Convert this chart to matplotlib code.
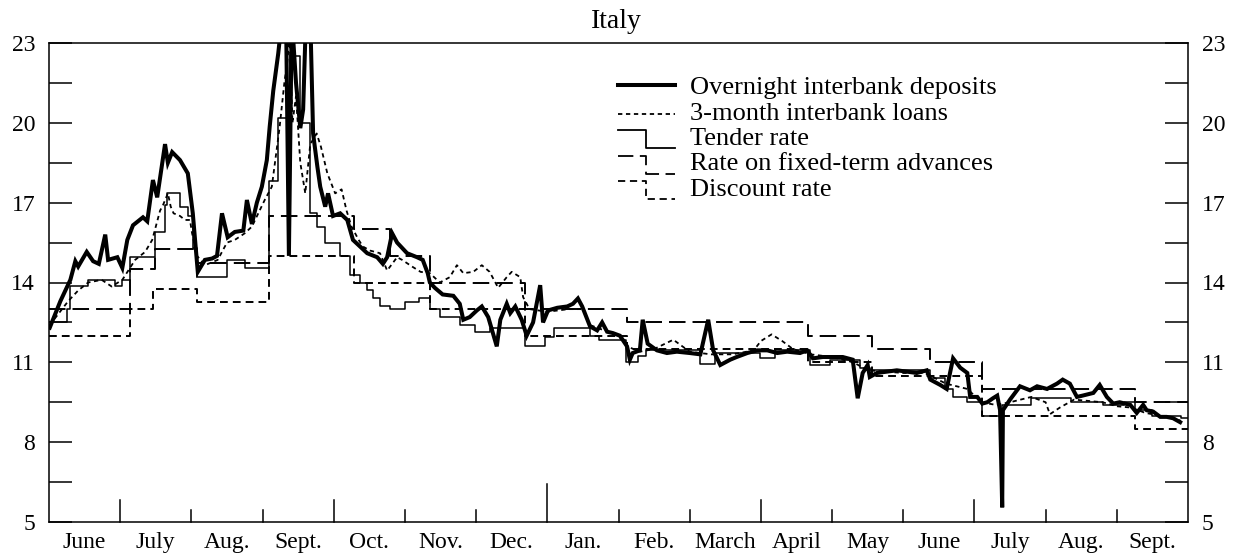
import matplotlib
matplotlib.use("Agg")
import matplotlib.pyplot as plt
from matplotlib.transforms import blended_transform_factory

plt.rcParams['font.family'] = ['Liberation Serif', 'DejaVu Serif']

# Time axis: months elapsed since 1 June 1992 (0) up to 1 Oct 1993 (16)
month_labels = ["June", "July", "Aug.", "Sept.", "Oct.", "Nov.", "Dec.", "Jan.",
                "Feb.", "March", "April", "May", "June", "July", "Aug.", "Sept."]
y_ticks = [5, 8, 11, 14, 17, 20, 23]

# Overnight interbank deposits (daily-ish observations)
overnight_t = [0.01, 0.16, 0.30, 0.37, 0.41, 0.53, 0.62, 0.70, 0.79, 0.83, 0.96, 1.03,
               1.10, 1.18, 1.32, 1.38, 1.46, 1.52, 1.63, 1.67, 1.73, 1.84, 1.95, 2.02,
               2.09, 2.19, 2.29, 2.36, 2.43, 2.51, 2.61, 2.73, 2.78, 2.85, 2.92, 2.99,
               3.06, 3.10, 3.15, 3.22, 3.26, 3.33, 3.37, 3.41, 3.47, 3.53, 3.57, 3.61,
               3.67, 3.71, 3.77, 3.81, 3.88, 3.92, 3.99, 4.09, 4.19, 4.27, 4.37, 4.47,
               4.61, 4.69, 4.75, 4.82, 4.89, 5.03, 5.17, 5.25, 5.32, 5.35, 5.42, 5.53,
               5.68, 5.77, 5.82, 5.91, 6.01, 6.08, 6.17, 6.29, 6.34, 6.43, 6.48, 6.55,
               6.64, 6.71, 6.80, 6.90, 6.94, 7.01, 7.14, 7.28, 7.36, 7.43, 7.49, 7.60,
               7.70, 7.77, 7.84, 7.92, 8.02, 8.12, 8.16, 8.20, 8.30, 8.34, 8.41, 8.54,
               8.68, 8.82, 9.00, 9.15, 9.26, 9.33, 9.43, 9.57, 9.66, 9.81, 9.95, 10.09,
               10.23, 10.37, 10.55, 10.65, 10.73, 10.87, 11.01, 11.15, 11.29, 11.36, 11.43,
               11.50, 11.53, 11.63, 11.77, 11.91, 12.05, 12.19, 12.33, 12.38, 12.52, 12.61,
               12.70, 12.80, 12.90, 12.94, 13.04, 13.11, 13.18, 13.26, 13.32, 13.36, 13.39,
               13.40, 13.50, 13.64, 13.78, 13.88, 14.02, 14.16, 14.24, 14.34, 14.44, 14.52,
               14.67, 14.76, 14.86, 14.95, 15.04, 15.19, 15.28, 15.37, 15.42, 15.51, 15.61,
               15.70, 15.79, 15.89]
overnight = [12.3, 13.3, 14.1, 14.8, 14.6, 15.15, 14.8, 14.7, 15.8, 14.85, 14.95, 14.55,
             15.6, 16.15, 16.45, 16.3, 17.85, 17.2, 19.2, 18.5, 18.9, 18.6, 18.1, 16.6,
             14.4, 14.85, 14.9, 15.0, 16.6, 15.7, 15.9, 15.95, 17.1, 16.2, 17.0, 17.6,
             18.6, 19.85, 21.2, 22.6, 23.6, 24.0, 15.0, 24.0, 21.5, 19.8, 20.5, 24.0,
             24.0, 19.6, 18.35, 17.6, 16.85, 17.35, 16.5, 16.6, 16.35, 15.6, 15.35, 15.1,
             14.95, 14.7, 14.95, 15.85, 15.5, 15.1, 14.95, 14.85, 14.35, 14.0, 13.8, 13.55,
             13.5, 13.2, 12.6, 12.7, 12.95, 13.1, 12.7, 11.6, 12.6, 13.2, 12.85, 13.1,
             12.6, 12.0, 12.5, 13.9, 12.5, 12.95, 13.05, 13.1, 13.2, 13.4, 13.1, 12.35,
             12.2, 12.5, 12.15, 12.1, 12.0, 11.6, 11.1, 11.35, 11.45, 12.6, 11.7, 11.45,
             11.35, 11.4, 11.35, 11.3, 12.6, 11.45, 10.9, 11.1, 11.2, 11.35, 11.45, 11.45,
             11.35, 11.4, 11.35, 11.45, 11.15, 11.2, 11.2, 11.2, 11.1, 9.65, 10.6,
             10.9, 10.45, 10.6, 10.65, 10.7, 10.65, 10.6, 10.7, 10.35, 10.15, 10.0,
             11.15, 10.8, 10.6, 9.7, 9.7, 9.45, 9.5, 9.65, 9.75, 9.2, 5.55,
             9.2, 9.6, 10.1, 9.95, 10.1, 10.0, 10.2, 10.35, 10.2, 9.7, 9.75,
             9.85, 10.15, 9.7, 9.45, 9.5, 9.4, 9.1, 9.4, 9.2, 9.15, 8.95,
             8.95, 8.9, 8.75]

# 3-month interbank loans
loans_t = [0.01, 0.27, 0.41, 0.55, 0.74, 0.88, 1.03, 1.21, 1.35, 1.45, 1.56, 1.60,
           1.67, 1.71, 1.75, 1.84, 1.91, 1.98, 2.01, 2.08, 2.19, 2.37, 2.50, 2.61,
           2.75, 2.85, 2.94, 3.03, 3.13, 3.24, 3.31, 3.34, 3.38, 3.42, 3.47, 3.53,
           3.60, 3.67, 3.76, 3.82, 3.91, 4.02, 4.11, 4.18, 4.25, 4.35, 4.41, 4.51,
           4.65, 4.75, 4.82, 4.89, 4.96, 5.10, 5.22, 5.35, 5.49, 5.63, 5.73, 5.82,
           5.96, 6.08, 6.19, 6.31, 6.43, 6.50, 6.62, 6.66, 6.75, 7.00, 7.30, 7.50,
           7.60, 7.80, 8.00, 8.12, 8.30, 8.50, 8.77, 9.00, 9.30, 9.60, 9.90, 10.00,
           10.15, 10.30, 10.45, 10.70, 11.00, 11.30, 11.50, 12.00, 12.30, 12.60, 12.90,
           13.10, 13.30, 13.50, 13.80, 14.00, 14.06, 14.20, 14.40, 14.60, 14.80, 15.00,
           15.20, 15.40, 15.60, 15.80, 15.90]
loans = [12.4, 13.3, 13.7, 14.0, 14.1, 13.85, 14.1, 14.85, 15.15, 15.6, 16.7, 16.9,
         17.35, 16.85, 16.6, 16.5, 16.35, 16.35, 15.85, 15.0, 14.65, 14.85, 15.5, 15.6,
         15.85, 16.1, 16.6, 17.1, 17.6, 19.85, 21.6, 22.1, 23.2, 20.0, 21.0, 18.5,
         17.35, 19.2, 19.6, 19.1, 18.1, 17.35, 17.5, 16.7, 16.1, 15.6, 15.35, 15.2,
         15.1, 14.45, 14.7, 14.95, 14.85, 14.6, 14.4, 14.35, 14.0, 14.2, 14.65, 14.35,
         14.4, 14.65, 14.4, 13.8, 14.2, 14.4, 14.2, 13.45, 13.0, 12.9, 13.0, 13.0,
         12.4, 12.2, 12.0, 11.6, 11.4, 11.5, 11.85, 11.4, 11.3, 11.3, 11.45, 11.8,
         12.05, 11.8, 11.5, 11.3, 11.2, 11.0, 10.7, 10.6, 10.6, 10.2, 10.0,
         9.5, 9.4, 9.5, 9.7, 9.5, 9.05, 9.3, 9.6, 9.55, 9.5, 9.35,
         9.3, 9.1, 9.0, 8.9, 8.8]

# Tender rate (changes at each auction)
tender_t = [0.00, 0.25, 0.30, 0.55, 0.93, 1.03, 1.14, 1.49, 1.63, 1.66, 1.84, 1.95,
            2.02, 2.08, 2.50, 2.75, 3.09, 3.22, 3.38, 3.52, 3.67, 3.77, 3.88, 4.09,
            4.23, 4.37, 4.47, 4.55, 4.65, 4.79, 5.00, 5.20, 5.35, 5.49, 5.77, 5.98,
            6.19, 6.69, 6.97, 7.10, 7.60, 7.73, 8.10, 8.27, 8.38, 9.14, 9.36, 9.99,
            10.20, 10.69, 10.97, 11.39, 11.53, 12.38, 12.59, 12.70, 12.90, 13.11, 13.39,
            13.80, 14.35, 14.80, 15.10, 15.25, 15.50, 15.90, 16.00]
tender = [12.5, 13.0, 13.85, 14.1, 13.85, 14.1, 14.95, 15.9, 16.9, 17.35, 16.85, 16.5,
          15.3, 14.2, 14.85, 14.55, 17.8, 20.2, 22.5, 20.0, 16.6, 16.1, 15.5, 15.0,
          14.3, 14.0, 13.7, 13.4, 13.1, 13.0, 13.25, 13.4, 13.0, 12.7, 12.4, 12.15,
          12.3, 11.6, 11.95, 12.3, 12.0, 11.85, 11.0, 11.25, 11.45, 10.95, 11.35, 11.15,
          11.45, 10.9, 11.1, 10.8, 10.7, 10.4, 10.0, 9.7, 9.5, 9.0, 9.4,
          9.65, 9.5, 9.4, 9.5, 9.2, 9.0, 8.9, 8.9]

# Rate on fixed-term advances (official, stepwise)
advances_t = [0.00, 1.14, 1.49, 2.08, 3.09, 4.28, 4.79, 5.35, 6.69, 8.12, 10.66,
              11.56, 12.38, 13.11, 15.25, 16.00]
advances = [13.0, 14.5, 15.25, 14.75, 16.5, 16.0, 15.0, 14.0, 13.0, 12.5, 12.0,
            11.5, 11.0, 10.0, 9.5, 9.5]

# Discount rate (official, stepwise)
discount_t = [0.00, 1.14, 1.46, 2.08, 3.09, 4.28, 5.35, 6.69, 8.12, 10.66, 11.56,
              13.11, 15.25, 16.00]
discount = [12.0, 13.0, 13.75, 13.25, 15.0, 14.0, 13.0, 12.0, 11.5, 11.0, 10.5,
            9.0, 8.5, 8.5]

W, H = 1241, 557
fig = plt.figure(figsize=(W / 100, H / 100), dpi=100)
ax = fig.add_axes([49 / W, 1 - 522 / H, (1188 - 49) / W, (522 - 43) / H])

ink = "black"
ax.step(discount_t, discount, where="post", color=ink, lw=1.4, dashes=(4.0, 2.6))
ax.step(advances_t, advances, where="post", color=ink, lw=1.4, dashes=(8.5, 3.6))
ax.step(tender_t, tender, where="post", color=ink, lw=1.1)
ax.plot(loans_t, loans, color=ink, lw=1.3, dashes=(2.4, 2.0))
ax.plot(overnight_t, overnight, color=ink, lw=2.9, solid_joinstyle="miter")

ax.set_xlim(0, 16)
ax.set_ylim(5, 23)

for s in ax.spines.values():
    s.set_linewidth(1.1)

# y axis: labelled every 3 points, unlabelled ticks halfway
ax.set_yticks(y_ticks)
ax.set_yticks([6.5, 9.5, 12.5, 15.5, 18.5, 21.5], minor=True)
ax.tick_params(axis="y", which="both", direction="in", length=16.5, width=1.1,
               left=True, right=True, labelleft=True, labelright=True,
               labelsize=17, pad=10)

# x axis: month names centred, boundary marks drawn separately
ax.set_xticks([i + 0.5 for i in range(16)])
ax.set_xticklabels(month_labels)
ax.tick_params(axis="x", which="both", length=0, labelsize=17, pad=7)
ax.set_xticks([], minor=True)

tr = blended_transform_factory(ax.transData, ax.transAxes)
for b in range(1, 16):
    if b == 7:
        h = 0.079
    elif b in (1, 4, 10, 13):
        h = 0.046
    else:
        h = 0.025
    ax.plot([b, b], [0, h], color=ink, lw=1.1, transform=tr, clip_on=False)

fig.text(0.497, 1 - 22 / H, "Italy", ha="center", va="center", fontsize=20)

# Legend drawn by hand with step-shaped keys
ta = ax.transAxes
def fx(px):
    return (px - 49) / (1188 - 49)
def fy(py):
    return (522 - py) / (522 - 43)

rows = [88, 113.5, 139, 164.5, 190]
names = ["Overnight interbank deposits", "3-month interbank loans", "Tender rate",
         "Rate on fixed-term advances", "Discount rate"]
x0, xm, x1, xt = fx(618), fx(646), fx(675), fx(690)
ax.plot([x0, x1], [fy(rows[0] - 3)] * 2, color=ink, lw=2.9, transform=ta)
ax.plot([x0, x1], [fy(rows[1])] * 2, color=ink, lw=1.3, dashes=(2.4, 2.0), transform=ta)
for r, kw in zip(rows[2:], [dict(), dict(dashes=(8.5, 3.6)), dict(dashes=(4.0, 2.6))]):
    top, bot = fy(r - 9), fy(r + 9)
    ax.plot([x0, xm, xm, x1], [top, top, bot, bot], color=ink, lw=1.3,
            transform=ta, **kw)
for r, name in zip(rows, names):
    ax.text(xt, fy(r), name, transform=ta, ha="left", va="center", fontsize=19)

fig.savefig("out.png", dpi=100)
